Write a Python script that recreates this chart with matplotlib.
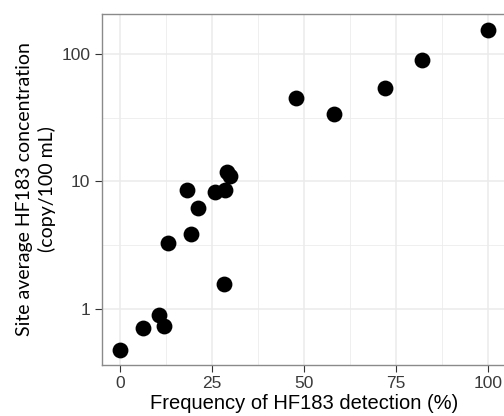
import numpy as np
import matplotlib
matplotlib.use("Agg")
import matplotlib.pyplot as plt
from matplotlib.ticker import FixedLocator, NullFormatter

# detection frequency (%) vs site average concentration (copy/100 mL)
freq = [0, 6.2, 10.6, 12.0, 13.0, 18.3, 19.4, 21.1, 25.8, 28.3, 28.5, 29.0, 29.9,
        47.8, 58.1, 71.9, 81.9, 100]
conc = [0.48, 0.71, 0.90, 0.74, 3.28, 8.58, 3.88, 6.16, 8.2, 1.57, 8.6, 11.9, 11.1,
        45.0, 33.8, 54.4, 89.3, 153]

x_ticks = [0, 25, 50, 75, 100]
x_minor = [12.5, 37.5, 62.5, 87.5]
y_ticks = [1, 10, 100]
y_tick_labels = ["1", "10", "100"]
y_minor = [10 ** 0.5, 10 ** 1.5]

W, H = 504, 416
fig = plt.figure(figsize=(W / 100, H / 100), dpi=100)
ax = fig.add_axes([101.6 / W, 1 - 365 / H, 405 / W, 351 / H])

ax.set_yscale("log")
ax.set_xlim(-5, 105)
ax.set_ylim(10 ** -0.44, 10 ** 2.314)

grid_c = "#EBEBEB"
for v in x_minor:
    ax.axvline(v, color=grid_c, lw=0.55, zorder=0)
for v in y_minor:
    ax.axhline(v, color=grid_c, lw=0.55, zorder=0)
for v in x_ticks:
    ax.axvline(v, color=grid_c, lw=1.1, zorder=0)
for v in y_ticks:
    ax.axhline(v, color=grid_c, lw=1.1, zorder=0)

ax.scatter(freq, conc, s=130, color="black", linewidths=0, zorder=3)

ax.xaxis.set_major_locator(FixedLocator(x_ticks))
ax.xaxis.set_minor_locator(FixedLocator([]))
ax.yaxis.set_major_locator(FixedLocator(y_ticks))
ax.yaxis.set_minor_locator(FixedLocator([]))
ax.yaxis.set_minor_formatter(NullFormatter())
ax.set_yticklabels(y_tick_labels)

for lab in ax.get_xticklabels() + ax.get_yticklabels():
    lab.set_fontfamily("Liberation Sans")
    lab.set_fontsize(12.5)
ax.tick_params(axis="both", length=5, width=0.8, color="#333333",
               labelcolor="#3A3A3A", pad=3)

for sp in ax.spines.values():
    sp.set_color("#8A8A8A")
    sp.set_linewidth(1.0)

ax.set_xlabel("Frequency of HF183 detection (%)", family="Liberation Sans",
              fontsize=14.5, labelpad=2)
ax.set_ylabel("Site average HF183 concentration\n(copy/100 mL)", family="Lato",
              fontsize=14, labelpad=4, linespacing=1.3)

fig.savefig("out.png", dpi=100)
